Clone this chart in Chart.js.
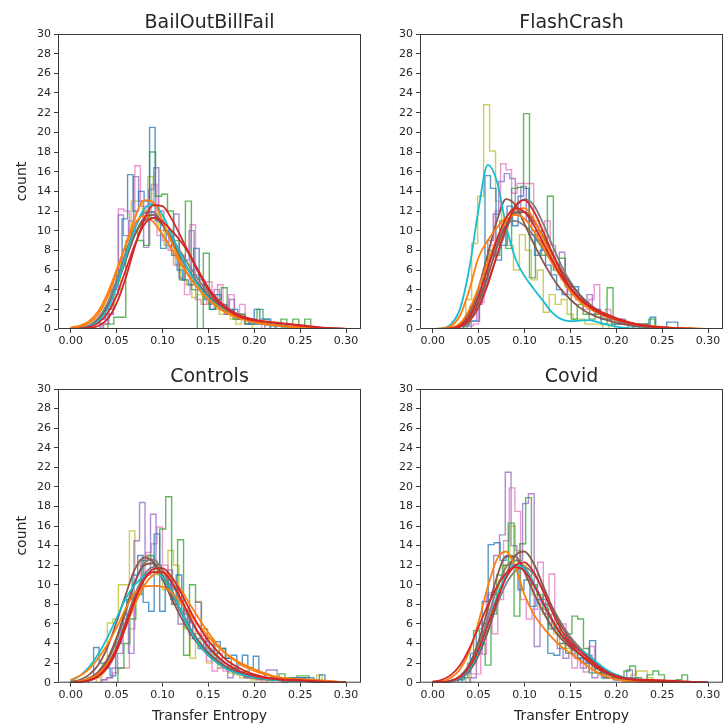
<!DOCTYPE html>
<html>
<head>
<meta charset="utf-8">
<script src="https://cdn.jsdelivr.net/npm/chart.js@4.4.0/dist/chart.umd.min.js"></script>
<style>
  body { margin: 0; background: #fff; }
  #wrap { position: relative; width: 724px; height: 728px; }
  #wrap canvas { position: absolute; }
</style>
</head>
<body>
<div id="wrap">
  <canvas id="bail" width="362" height="364" style="left:0;top:0"></canvas>
  <canvas id="flash" width="362" height="364" style="left:362px;top:0"></canvas>
  <canvas id="ctrl" width="362" height="364" style="left:0;top:364px"></canvas>
  <canvas id="covid" width="362" height="364" style="left:362px;top:364px"></canvas>
</div>
<script>
// matplotlib tab10
const C = { blue: '#1f77b4', orange: '#ff7f0e', green: '#2ca02c', red: '#d62728', purple: '#9467bd',
            brown: '#8c564b', pink: '#e377c2', gray: '#7f7f7f', olive: '#bcbd22', cyan: '#17becf' };

const xTicks = [0.00, 0.05, 0.10, 0.15, 0.20, 0.25, 0.30];
const kdeX = [0.00, 0.01, 0.02, 0.03, 0.04, 0.05, 0.06, 0.07, 0.08, 0.09, 0.10, 0.11, 0.12, 0.13, 0.14, 0.15,
              0.16, 0.17, 0.18, 0.19, 0.20, 0.21, 0.22, 0.23, 0.24, 0.25, 0.26, 0.27, 0.28, 0.29, 0.30];

// --- BailOutBillFail ---
const bailBlue = { from: 0.020, step: 0.006, n: [0, 0, 1, 2, 4, 6, 11.2, 15.7, 12, 14, 13, 20.5, 11, 8.2, 10, 7.5, 6, 5, 4.5, 8.2, 5, 3, 2, 3.5, 2.5, 1.5, 2, 1, 1, 0.5, 2, 1, 1, 0, 0.5, 0] };
const bailGreen = { from: 0.034, step: 0.0065, n: [0, 0.5, 1.2, 1.2, 8.5, 10, 9, 8.5, 18, 13.5, 13.7, 12, 9, 5, 13, 4, 0, 7.7, 2, 3, 4.2, 2, 1, 1.5, 0.5, 0.5, 2, 1, 0.5, 0.5, 1, 0.5, 1, 0, 1, 0] };
const bailPurple = { from: 0.030, step: 0.0055, n: [0, 0.5, 1.5, 3.5, 11.6, 9.5, 11, 15.5, 13, 8.3, 14.2, 16.4, 12, 10, 8.5, 11.7, 5.2, 7, 10, 5.5, 4.5, 3.5, 2.5, 4, 2, 1.5, 3, 1, 1.5, 0.5, 1, 0.5, 0.5, 0, 0.5, 0] };
const bailPink = { from: 0.034, step: 0.006, n: [0.5, 1.5, 5, 12.2, 12, 10, 16.6, 12.5, 11, 14.7, 9.5, 9, 8, 6.5, 7.5, 3.5, 10.6, 3, 2.5, 4.8, 3, 4.5, 2, 3.5, 1.5, 2.5, 0.5, 1, 0.5, 0] };
const bailOlive = { from: 0.036, step: 0.006, n: [0.5, 2, 4, 7, 9, 13, 13, 12, 15.5, 12.5, 10, 8.5, 8, 6.5, 5, 4.5, 3.2, 3.5, 2.5, 3, 2, 1.5, 1.5, 1, 0.5, 1, 0.5, 0] };

const bailOrangeA = [0.1, 0.25, 0.6, 1.5, 3.2, 5.8, 8.6, 11.3, 13.1, 12.9, 11.0, 8.8, 6.8, 5.2, 4.0, 3.0, 2.2, 1.6, 1.2, 0.9, 0.7, 0.5, 0.4, 0.3, 0.22, 0.16, 0.1, 0.07, 0.04, 0.02, 0.01];
const bailOrangeB = [0.15, 0.35, 0.8, 1.8, 3.6, 6.0, 8.5, 10.7, 11.5, 10.9, 9.6, 8.1, 6.6, 5.2, 4.0, 3.0, 2.3, 1.7, 1.3, 1.0, 0.75, 0.55, 0.4, 0.3, 0.2, 0.15, 0.1, 0.07, 0.04, 0.02, 0.01];
const bailCyan = [0.03, 0.08, 0.25, 0.8, 2.0, 4.3, 7.3, 10.2, 12.2, 12.7, 11.6, 9.6, 7.5, 5.7, 4.3, 3.2, 2.4, 1.8, 1.3, 0.95, 0.7, 0.5, 0.36, 0.26, 0.18, 0.12, 0.08, 0.05, 0.03, 0.02, 0.01];
const bailRedA = [0, 0.02, 0.08, 0.3, 1.0, 2.6, 5.2, 8.4, 11.1, 12.6, 12.5, 11.2, 9.4, 7.5, 5.6, 4.0, 2.8, 2.0, 1.4, 1.05, 0.85, 0.75, 0.65, 0.55, 0.45, 0.35, 0.25, 0.15, 0.08, 0.04, 0.02];
const bailRedB = [0.02, 0.06, 0.2, 0.6, 1.6, 3.4, 6.0, 8.6, 10.6, 11.3, 10.9, 10.0, 8.9, 7.5, 5.8, 4.2, 3.0, 2.2, 1.6, 1.2, 0.95, 0.8, 0.7, 0.6, 0.5, 0.4, 0.3, 0.2, 0.1, 0.05, 0.02];
const bailBrown = [0.04, 0.1, 0.3, 0.9, 2.2, 4.3, 7.0, 9.6, 11.3, 11.6, 10.6, 9.0, 7.3, 5.8, 4.5, 3.4, 2.6, 1.9, 1.4, 1.0, 0.75, 0.55, 0.42, 0.32, 0.25, 0.2, 0.15, 0.1, 0.06, 0.03, 0.02];
const bailGrayA = [0.03, 0.1, 0.3, 1.0, 2.4, 4.6, 7.2, 9.6, 11.0, 11.3, 10.6, 9.3, 7.8, 6.3, 4.9, 3.7, 2.7, 2.0, 1.5, 1.1, 0.8, 0.6, 0.45, 0.33, 0.24, 0.17, 0.12, 0.08, 0.05, 0.03, 0.01];
const bailGrayB = [0.03, 0.1, 0.35, 1.1, 2.6, 5.0, 7.8, 10.3, 11.8, 11.9, 10.7, 8.9, 7.2, 5.7, 4.4, 3.3, 2.5, 1.8, 1.3, 0.95, 0.7, 0.5, 0.38, 0.28, 0.2, 0.14, 0.1, 0.06, 0.04, 0.02, 0.01];

// --- FlashCrash ---
const flashOlive = { from: 0.0295, step: 0.0065, n: [0, 3, 8.7, 13.5, 22.8, 18.1, 13, 10.5, 8.5, 6, 9.6, 8, 5, 6, 1.7, 3.5, 2.5, 3, 1.5, 1, 1, 0.5, 0.5, 0.5, 0, 0.5, 0] };
const flashGreen = { from: 0.034, step: 0.0065, n: [0.5, 2.3, 3.5, 5.5, 8, 7.5, 11, 8.2, 14.3, 14.4, 21.9, 5.2, 10, 7.5, 13.5, 6, 7.2, 4.3, 1, 2.5, 1.5, 1, 1.5, 0.5, 4.2, 1, 0.5, 0.5, 0.5, 0.5, 0.5, 1, 0] };
const flashBlue = { from: 0.033, step: 0.006, n: [0.3, 0.8, 0.8, 4, 15.6, 14.3, 7, 8.5, 12.5, 10.5, 13.5, 14.3, 9.6, 7.5, 8, 6.5, 5.5, 4, 3.5, 4.3, 4.3, 3, 2.5, 1.5, 2, 1, 1, 0.5, 0.5, 0.5, 0, 0.5, 0, 0.5, 1.2, 0, 0, 0.7, 0.7, 0] };
const flashPurple = { from: 0.036, step: 0.006, n: [0, 0.8, 2.5, 5, 9, 11.7, 15, 15.8, 15.3, 12, 14.5, 11, 10, 9, 8, 7.5, 6.5, 7.8, 4.5, 4, 3, 2.5, 3.5, 2, 1.5, 1, 1, 0.5, 1, 0.5, 0.5, 0.5, 0.5, 0] };
const flashPink = { from: 0.038, step: 0.006, n: [0.3, 0.5, 2.7, 6, 8.5, 12, 16.8, 16.2, 13.8, 14.8, 14.8, 14.8, 11, 9.5, 11, 8.5, 6.5, 5, 3.5, 4, 3, 2, 3, 4.5, 1.5, 2, 1, 1, 0.5, 0.5, 0] };

const flashCyan = [0, 0.05, 0.5, 2.1, 6.2, 12.2, 16.7, 15.0, 10.5, 7.2, 5.4, 4.1, 2.9, 1.7, 1.0, 0.8, 0.85, 0.9, 0.7, 0.45, 0.25, 0.12, 0.06, 0.03, 0.02, 0.01, 0, 0, 0, 0, 0];
const flashOrangeA = [0, 0.05, 0.3, 1.4, 4.0, 7.3, 9.0, 10.3, 11.4, 12.2, 12.3, 11.2, 9.3, 7.2, 5.3, 3.8, 2.8, 2.1, 1.6, 1.2, 0.9, 0.7, 0.5, 0.35, 0.25, 0.18, 0.12, 0.08, 0.05, 0.03, 0.01];
const flashOrangeB = [0, 0.02, 0.1, 0.6, 2.0, 4.2, 6.8, 9.2, 11.0, 11.6, 11.2, 10.0, 8.4, 6.7, 5.2, 4.0, 3.0, 2.3, 1.7, 1.3, 1.0, 0.75, 0.55, 0.4, 0.3, 0.22, 0.15, 0.1, 0.06, 0.03, 0.02];
const flashBrownA = [0, 0.02, 0.1, 0.5, 1.8, 4.2, 7.6, 11.0, 13.2, 12.6, 10.7, 8.7, 6.9, 5.3, 4.0, 3.0, 2.2, 1.6, 1.2, 0.9, 0.65, 0.45, 0.3, 0.2, 0.13, 0.08, 0.05, 0.03, 0.02, 0.01, 0];
const flashBrownB = [0, 0.01, 0.06, 0.3, 1.1, 2.8, 5.4, 8.3, 10.6, 11.8, 11.9, 11.0, 9.5, 7.7, 6.0, 4.6, 3.5, 2.6, 1.9, 1.4, 1.0, 0.7, 0.5, 0.33, 0.22, 0.14, 0.09, 0.05, 0.03, 0.01, 0];
const flashGrayA = [0, 0.01, 0.05, 0.3, 1.0, 2.6, 4.8, 7.4, 10.0, 12.2, 13.2, 12.6, 10.8, 8.6, 6.5, 4.8, 3.5, 2.5, 1.8, 1.3, 0.9, 0.6, 0.4, 0.26, 0.17, 0.1, 0.06, 0.04, 0.02, 0.01, 0];
const flashGrayB = [0, 0.02, 0.1, 0.5, 1.6, 3.6, 6.2, 8.8, 10.6, 11.0, 10.5, 9.5, 8.2, 6.8, 5.4, 4.2, 3.2, 2.4, 1.8, 1.3, 0.9, 0.6, 0.4, 0.26, 0.17, 0.1, 0.06, 0.04, 0.02, 0.01, 0];
const flashRedA = [0, 0.01, 0.06, 0.35, 1.3, 3.3, 6.2, 9.1, 11.3, 12.3, 11.9, 10.6, 8.8, 7.0, 5.4, 4.1, 3.1, 2.4, 1.9, 1.5, 1.1, 0.8, 0.55, 0.38, 0.25, 0.16, 0.1, 0.06, 0.03, 0.02, 0.01];
const flashRedB = [0, 0.01, 0.04, 0.2, 0.8, 2.2, 4.5, 7.5, 10.3, 12.5, 13.1, 12.0, 10.0, 7.8, 5.8, 4.2, 3.1, 2.3, 1.7, 1.3, 0.95, 0.7, 0.5, 0.35, 0.24, 0.16, 0.1, 0.06, 0.03, 0.02, 0.01];

// --- Controls ---
const ctrlPurple = { from: 0.033, step: 0.006, n: [0.3, 0.5, 1.5, 3, 6.5, 3, 14.5, 18.4, 11, 17.2, 12, 10.5, 11.5, 8, 6, 7.5, 5, 4.5, 4.8, 3.5, 2.5, 3, 2, 0.5, 1.5, 1, 0.5, 0.5, 0.5, 0.5, 1.3, 1.3, 0.5, 0, 0.3, 0.3, 0.5, 0.3, 0] };
const ctrlGreen = { from: 0.045, step: 0.0065, n: [0, 1.5, 4, 6.5, 9, 12.5, 13, 12, 15.7, 19, 8, 14.6, 2.8, 10, 8.2, 5.5, 4.5, 3, 3.5, 2.5, 1.5, 1, 1.2, 0.8, 0.5, 0.5, 0.5, 0.3, 0.9, 0.5, 0.5, 0.7, 0.7, 0.3, 0] };
const ctrlBlue = { from: 0.019, step: 0.006, n: [0.5, 3.6, 2, 1.5, 0.7, 4, 6, 8.5, 11, 13, 8.2, 7.3, 15.2, 7.3, 10.5, 8.5, 11, 7, 6.2, 4.5, 3.5, 4.2, 3.2, 4.2, 3.5, 2.5, 2.8, 1.8, 2.8, 1.5, 2.7, 1, 0.5, 0.5, 0.5, 0.3, 0.3, 0.5, 0.5, 0.5, 0.5, 0.3, 0.8, 0] };
const ctrlOlive = { from: 0.028, step: 0.006, n: [0.5, 2, 6.1, 6.5, 10, 10, 15.5, 12, 12, 13, 12.5, 11, 9.5, 13.5, 12, 8, 5.5, 2.5, 5, 3.5, 2, 2.8, 1.5, 1.5, 1, 0.8, 0.5, 0.5, 0.3, 0.3, 0.3, 0, 0.3, 0.3, 0, 0.3, 0.3, 0.5, 0.3, 0.3, 0.8, 0] };
const ctrlPink = { from: 0.034, step: 0.006, n: [0.3, 0.5, 1, 1.5, 1.5, 5.5, 9, 12.5, 13.3, 14.2, 15.9, 12, 10, 9.5, 8, 6.5, 4.5, 8.3, 4.5, 2.2, 1.2, 1.5, 1.2, 1.8, 1.5, 1, 0.5, 0.5, 0.3, 0] };

const ctrlBrownA = [0.1, 0.3, 0.8, 1.8, 3.6, 6.2, 9.0, 11.6, 12.8, 12.3, 10.6, 8.6, 6.7, 5.1, 3.8, 2.8, 2.0, 1.4, 1.0, 0.7, 0.5, 0.35, 0.28, 0.22, 0.2, 0.18, 0.15, 0.1, 0.06, 0.03, 0.01];
const ctrlBrownB = [0.05, 0.15, 0.45, 1.1, 2.4, 4.6, 7.5, 10.3, 12.0, 12.2, 11.0, 9.1, 7.2, 5.5, 4.1, 3.0, 2.2, 1.6, 1.15, 0.85, 0.6, 0.45, 0.35, 0.28, 0.22, 0.18, 0.14, 0.1, 0.06, 0.03, 0.01];
const ctrlGrayA = [0.05, 0.15, 0.4, 1.0, 2.2, 4.3, 7.2, 10.2, 12.2, 12.6, 11.5, 9.5, 7.4, 5.6, 4.2, 3.1, 2.3, 1.6, 1.1, 0.8, 0.55, 0.4, 0.3, 0.25, 0.2, 0.18, 0.15, 0.1, 0.06, 0.03, 0.01];
const ctrlGrayB = [0.03, 0.1, 0.3, 0.8, 1.8, 3.7, 6.3, 9.0, 11.0, 11.8, 11.5, 10.2, 8.4, 6.5, 4.9, 3.6, 2.6, 1.9, 1.35, 0.95, 0.7, 0.5, 0.38, 0.3, 0.24, 0.2, 0.15, 0.1, 0.06, 0.03, 0.01];
const ctrlRedA = [0.02, 0.08, 0.25, 0.7, 1.7, 3.5, 6.0, 8.6, 10.6, 11.6, 11.7, 10.8, 9.2, 7.4, 5.7, 4.3, 3.2, 2.3, 1.7, 1.2, 0.85, 0.6, 0.45, 0.35, 0.3, 0.25, 0.2, 0.14, 0.09, 0.05, 0.02];
const ctrlRedB = [0.02, 0.06, 0.2, 0.6, 1.5, 3.2, 5.7, 8.4, 10.5, 11.3, 11.3, 10.3, 8.6, 6.7, 5.0, 3.7, 2.7, 1.9, 1.35, 0.95, 0.7, 0.5, 0.38, 0.3, 0.25, 0.2, 0.16, 0.11, 0.07, 0.04, 0.02];
const ctrlOrangeA = [0.3, 0.7, 1.4, 2.5, 3.9, 5.6, 7.6, 9.2, 9.8, 9.9, 9.8, 9.2, 8.2, 7.0, 5.8, 4.7, 3.7, 2.9, 2.3, 1.8, 1.4, 1.0, 0.7, 0.5, 0.4, 0.35, 0.3, 0.25, 0.2, 0.12, 0.06];
const ctrlOrangeB = [0.05, 0.15, 0.4, 0.9, 1.9, 3.5, 5.7, 8.0, 9.9, 11.0, 11.3, 10.7, 9.5, 8.0, 6.5, 5.1, 3.9, 2.9, 2.2, 1.6, 1.2, 0.9, 0.65, 0.5, 0.4, 0.32, 0.25, 0.18, 0.12, 0.07, 0.03];
const ctrlCyan = [0.2, 0.7, 1.6, 2.9, 4.6, 6.6, 8.6, 10.0, 10.9, 11.3, 10.8, 9.3, 7.3, 5.4, 3.9, 2.8, 2.0, 1.4, 1.0, 0.75, 0.55, 0.4, 0.3, 0.25, 0.2, 0.18, 0.15, 0.1, 0.06, 0.03, 0.01];

// --- Covid ---
const covidPurple = { from: 0.035, step: 0.0063, n: [0, 0.5, 3, 6, 9, 13, 15.1, 21.5, 14, 12.5, 18.3, 19.3, 3.7, 8.5, 7, 5.5, 3.5, 2.5, 3, 2.5, 1.5, 2.8, 0.5, 1, 0.5, 0.5, 0.3, 0.5, 1.3, 0.5, 0] };
const covidPink = { from: 0.040, step: 0.0062, n: [0.9, 0.9, 2.9, 9.2, 5, 8.5, 14.5, 19.9, 17.5, 8.5, 6.5, 7.5, 12.3, 8, 11.1, 5.5, 6, 4.5, 1.5, 3, 1.1, 3.7, 1.5, 0.8, 0.5, 0.5, 0.3, 0] };
const covidGreen = { from: 0.032, step: 0.0063, n: [0.5, 2, 5.3, 4, 1.8, 7, 11, 12, 16.3, 6.8, 14.2, 18.9, 10, 9, 7.5, 5.5, 6, 4.5, 5, 6.8, 6.5, 3.5, 1, 1.5, 1, 0.5, 0.8, 0.5, 1.2, 1.7, 0.5, 0.3, 0.8, 1.2, 0.8, 0, 0, 0.3, 0.8, 0] };
const covidBlue = { from: 0.028, step: 0.0065, n: [0.3, 1, 3, 5.5, 8.3, 14.1, 14.3, 12.5, 13, 12, 9.5, 10.5, 7.8, 8.5, 8, 3, 2.8, 4, 3, 3.5, 2.5, 2, 4.3, 1, 0.5, 0.5, 0.3, 0.3, 0.5, 0.3, 0] };
const covidOlive = { from: 0.036, step: 0.006, n: [0.5, 2, 3.5, 6, 7.5, 9, 10.5, 12, 16, 13.5, 12, 10.5, 9, 8.5, 7, 6, 5, 4, 3.5, 3, 2.5, 2, 2.5, 1.5, 1, 0.8, 0.5, 0.5, 0.5, 0.3, 0.8, 1.2, 1.2, 0.5, 0] };

const covidOrange = [0.05, 0.15, 0.5, 1.4, 3.2, 6.2, 9.8, 12.6, 13.4, 11.8, 9.0, 7.0, 5.7, 4.6, 3.7, 3.0, 2.3, 1.6, 1.0, 0.6, 0.35, 0.2, 0.12, 0.08, 0.05, 0.03, 0.02, 0.01, 0, 0, 0];
const covidRedA = [0.1, 0.3, 0.8, 1.8, 3.5, 5.7, 7.9, 9.8, 11.2, 11.8, 11.4, 10.0, 8.2, 6.4, 4.9, 3.8, 3.0, 2.2, 1.5, 1.0, 0.65, 0.45, 0.35, 0.3, 0.28, 0.25, 0.2, 0.15, 0.1, 0.05, 0.02];
const covidRedB = [0.02, 0.06, 0.2, 0.6, 1.6, 3.4, 5.9, 8.5, 10.7, 12.0, 12.3, 11.3, 9.4, 7.3, 5.4, 4.1, 3.3, 2.5, 1.7, 1.1, 0.7, 0.45, 0.3, 0.22, 0.18, 0.15, 0.12, 0.09, 0.06, 0.03, 0.01];
const covidBrownA = [0.01, 0.03, 0.12, 0.4, 1.2, 2.8, 5.2, 8.2, 11.0, 13.0, 13.4, 12.2, 10.0, 7.7, 5.8, 4.4, 3.4, 2.5, 1.7, 1.1, 0.7, 0.45, 0.3, 0.2, 0.14, 0.1, 0.07, 0.04, 0.02, 0.01, 0];
const covidBrownB = [0.02, 0.06, 0.22, 0.7, 1.9, 4.2, 7.5, 10.8, 12.9, 12.9, 11.3, 9.2, 7.3, 5.7, 4.5, 3.6, 2.9, 2.1, 1.4, 0.9, 0.55, 0.35, 0.22, 0.15, 0.1, 0.07, 0.05, 0.03, 0.02, 0.01, 0];
const covidGrayA = [0.02, 0.06, 0.2, 0.65, 1.7, 3.7, 6.6, 9.6, 11.8, 12.5, 11.8, 10.2, 8.3, 6.5, 5.0, 4.0, 3.3, 2.5, 1.7, 1.1, 0.7, 0.45, 0.3, 0.2, 0.14, 0.1, 0.07, 0.04, 0.02, 0.01, 0];
const covidGrayB = [0.01, 0.04, 0.15, 0.5, 1.3, 2.9, 5.2, 7.9, 10.1, 11.4, 11.8, 11.1, 9.6, 7.8, 6.1, 4.7, 3.6, 2.7, 1.9, 1.2, 0.8, 0.5, 0.33, 0.22, 0.15, 0.1, 0.07, 0.04, 0.02, 0.01, 0];
const covidCyan = [0.01, 0.04, 0.15, 0.5, 1.4, 3.2, 5.9, 8.8, 11.0, 12.0, 11.6, 10.2, 8.3, 6.4, 4.9, 3.9, 3.4, 2.8, 2.0, 1.3, 0.8, 0.5, 0.35, 0.25, 0.18, 0.12, 0.08, 0.05, 0.03, 0.01, 0];

Chart.defaults.font.family = "'DejaVu Sans', sans-serif";
const TEXT = '#262626';
const SPINE = '#3a3a3a';

function rgba(hex, a) {
  const v = parseInt(hex.slice(1), 16);
  return `rgba(${v >> 16}, ${(v >> 8) & 255}, ${v & 255}, ${a})`;
}

// outline of a step histogram: rise at the first edge, flat tops, drop at the last edge
function stepPoints(h) {
  const pts = [{ x: h.from, y: 0 }];
  h.n.forEach((c, i) => pts.push({ x: h.from + i * h.step, y: c }));
  pts.push({ x: h.from + h.n.length * h.step, y: 0 });
  return pts;
}

function histSet(h, color) {
  return { data: stepPoints(h), borderColor: rgba(color, 0.75), borderWidth: 1.4,
           stepped: true, pointRadius: 0, fill: false, order: 1 };
}

function kdeSet(ys, color) {
  return { data: kdeX.map((x, i) => ({ x, y: ys[i] })), borderColor: color, borderWidth: 1.8,
           cubicInterpolationMode: 'monotone', pointRadius: 0, fill: false, order: 0 };
}

// axes frame + panel title
const framePlugin = {
  id: 'frame',
  afterDraw(chart, args, opts) {
    const { ctx, chartArea: a } = chart;
    ctx.save();
    ctx.strokeStyle = SPINE;
    ctx.lineWidth = 1;
    ctx.strokeRect(a.left + 0.5, a.top + 0.5, a.right - a.left - 1, a.bottom - a.top - 1);
    ctx.fillStyle = TEXT;
    ctx.font = "19px 'DejaVu Sans'";
    ctx.textAlign = 'center';
    ctx.textBaseline = 'alphabetic';
    ctx.fillText(opts.text, (a.left + a.right) / 2, a.top - opts.gap);
    ctx.restore();
  }
};

function panel(id, title, hists, curves, p) {
  new Chart(document.getElementById(id), {
    type: 'line',
    data: { datasets: [...curves.map(c => kdeSet(c[0], c[1])), ...hists.map(h => histSet(h[0], h[1]))] },
    options: {
      responsive: false,
      animation: false,
      events: [],
      layout: { padding: { top: p.top, right: 1, left: 0, bottom: 0 } },
      plugins: { legend: { display: false }, tooltip: { enabled: false }, frame: { text: title, gap: p.gap } },
      scales: {
        x: {
          type: 'linear', min: -0.0138, max: 0.3163,
          afterBuildTicks: s => { s.ticks = xTicks.map(v => ({ value: v })); },
          afterFit: s => { s.height = p.xh; },
          border: { display: false },
          grid: { drawOnChartArea: false, drawTicks: true, tickLength: 4, color: SPINE },
          ticks: { autoSkip: false, maxRotation: 0, padding: 2, color: TEXT, font: { size: 11 },
                   callback: v => v.toFixed(2) },
          title: { display: p.xTitle, text: 'Transfer Entropy', color: TEXT, font: { size: 14 },
                   padding: { top: 0, bottom: 3 } }
        },
        y: {
          min: 0, max: 30,
          afterFit: s => { s.width = 58; },
          border: { display: false },
          grid: { drawOnChartArea: false, drawTicks: true, tickLength: 4, color: SPINE },
          ticks: { stepSize: 2, autoSkip: false, padding: 3, color: TEXT, font: { size: 11 } },
          title: { display: p.yTitle, text: 'count', color: TEXT, font: { size: 14 },
                   padding: { top: 14, bottom: 0 } }
        }
      }
    },
    plugins: [framePlugin]
  });
}

panel('bail', 'BailOutBillFail',
  [[bailBlue, C.blue], [bailGreen, C.green], [bailPurple, C.purple], [bailPink, C.pink], [bailOlive, C.olive]],
  [[bailRedA, C.red], [bailRedB, C.red], [bailOrangeA, C.orange], [bailOrangeB, C.orange], [bailCyan, C.cyan],
   [bailBrown, C.brown], [bailGrayA, C.gray], [bailGrayB, C.gray]],
  { top: 34, xh: 35, gap: 6, xTitle: false, yTitle: true });

panel('flash', 'FlashCrash',
  [[flashBlue, C.blue], [flashGreen, C.green], [flashPurple, C.purple], [flashPink, C.pink], [flashOlive, C.olive]],
  [[flashRedA, C.red], [flashRedB, C.red], [flashOrangeA, C.orange], [flashOrangeB, C.orange], [flashCyan, C.cyan],
   [flashBrownA, C.brown], [flashBrownB, C.brown], [flashGrayA, C.gray], [flashGrayB, C.gray]],
  { top: 34, xh: 35, gap: 6, xTitle: false, yTitle: false });

panel('ctrl', 'Controls',
  [[ctrlBlue, C.blue], [ctrlGreen, C.green], [ctrlPurple, C.purple], [ctrlPink, C.pink], [ctrlOlive, C.olive]],
  [[ctrlRedA, C.red], [ctrlRedB, C.red], [ctrlOrangeA, C.orange], [ctrlOrangeB, C.orange], [ctrlCyan, C.cyan],
   [ctrlBrownA, C.brown], [ctrlBrownB, C.brown], [ctrlGrayA, C.gray], [ctrlGrayB, C.gray]],
  { top: 25, xh: 45.3, gap: 7, xTitle: true, yTitle: true });

panel('covid', 'Covid',
  [[covidBlue, C.blue], [covidGreen, C.green], [covidPurple, C.purple], [covidPink, C.pink], [covidOlive, C.olive]],
  [[covidRedA, C.red], [covidRedB, C.red], [covidOrange, C.orange], [covidCyan, C.cyan],
   [covidBrownA, C.brown], [covidBrownB, C.brown], [covidGrayA, C.gray], [covidGrayB, C.gray]],
  { top: 25, xh: 45.3, gap: 7, xTitle: true, yTitle: false });
</script>
</body>
</html>
